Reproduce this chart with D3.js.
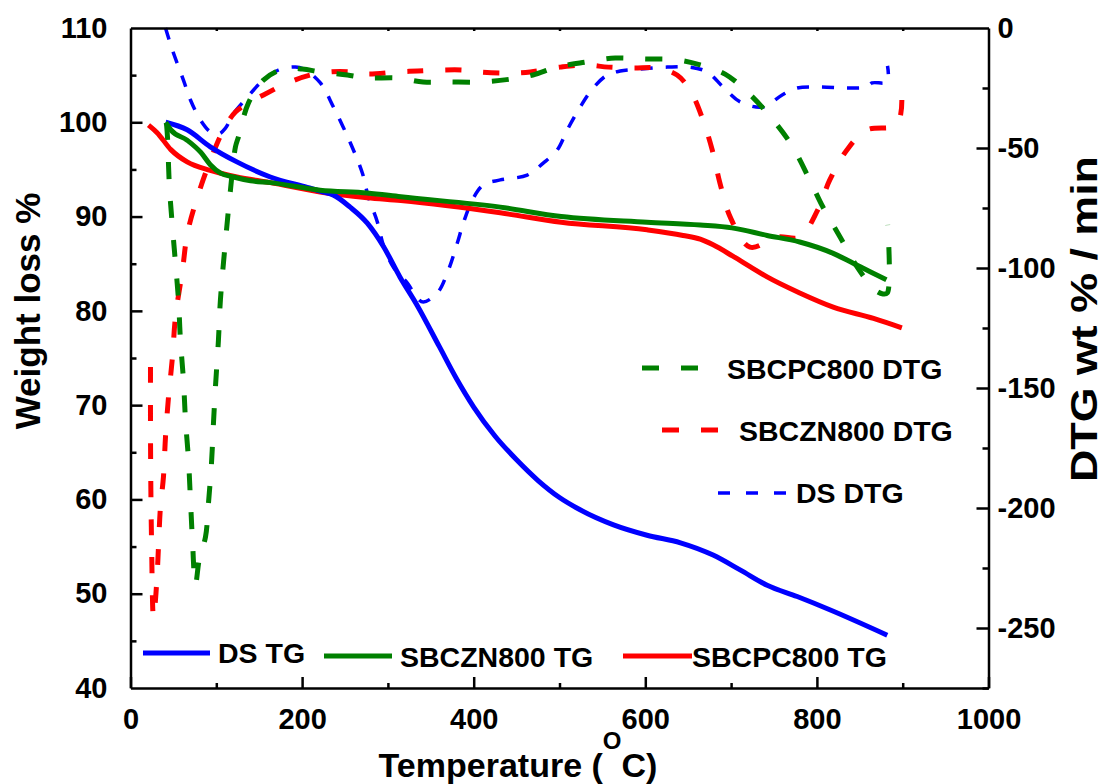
<!DOCTYPE html>
<html>
<head>
<meta charset="utf-8">
<script src="https://cdn.jsdelivr.net/npm/d3@7"></script>
<style>
html,body{margin:0;padding:0;background:#fff;}
svg{display:block;}
text{font-family:"Liberation Sans",Arial,sans-serif;font-weight:bold;fill:#000;}
</style>
</head>
<body>
<svg id="chart" width="1104" height="784"></svg>
<script>
// ---------- DATA ----------
// TG curves (left axis, Weight loss %)
const dsTgT   = [41,66,93,124,163,206,225,236,256,276,295,314,334,360,380,400,425,450,475,500,524,563,602,641,679,711,742,777,815,882];
const dsTgW   = [100,99.2,97.4,95.8,94.2,93.1,92.6,92.3,91.0,89.3,86.8,83.6,80.6,76.2,72.8,69.8,66.7,64.2,62.0,60.2,58.9,57.3,56.2,55.4,54.1,52.5,50.9,49.7,48.3,45.6];
const sbczTgT = [41,47,66,82,93,105,120,140,163,221,276,315,431,502,602,664,701,742,780,819,850,881];
const sbczTgW = [100,99.2,98.1,96.8,95.5,94.6,94.2,93.8,93.6,92.8,92.5,92.1,91.0,90.0,89.4,89.1,88.8,88.0,87.3,86.1,84.7,83.3];
const sbcpTgT = [21,31,47,66,93,124,163,221,276,315,431,502,602,644,664,679,702,722,742,780,819,866,899];
const sbcpTgW = [99.7,98.9,97.1,95.8,94.9,94.2,93.6,92.6,92.0,91.7,90.4,89.4,88.6,88.0,87.6,87.0,85.8,84.7,83.6,81.9,80.4,79.2,78.2];

// DTG curves (right axis, wt % / min)
const sbcpDtgT = [41.9,43.1,45.4,48.9,52.4,55.9,58.2,61.7,64.1,67.6,69.9,72.2,75.7,80.4,87.4,90.9,94.4,96.7,99.0,102.5,104.8,113,116.5,122.3,125.8,137.4,154.9,178.2,200.3,221.3,252.8,276,311,341,369,410,443,469,497,530,565,598,637,664,693,719,742,769,790,807,827,847,868,877,882,882.5];
const sbcpDtgD = [-39.6,-45.4,-66.3,-82.9,-97.9,-113.3,-130,-146.7,-163.3,-180,-196.7,-213.3,-232,-220.8,-212.1,-197.9,-181.3,-164.6,-149.6,-130,-113.3,-80,-67.5,-49.6,-45.4,-31.3,-21.7,-17.1,-17.1,-18.3,-19.6,-20.8,-20.8,-22.5,-22.5,-22.5,-21.3,-19.6,-16.3,-14.2,-12.5,-12.9,-13.3,-15.4,-19.2,-26.7,-35.4,-47.9,-62.1,-74.6,-87.1,-99.6,-109.2,-110.8,-110.4,-82];
const sbczDtgT = [23.3,23.4,24.5,26.8,29.1,31.5,32.6,34.9,38.4,40.8,44.3,48.9,52.4,60.6,66.4,78,93.2,108.3,122.3,139.8,154.9,182.9,209.7,233,256.3,276,311,334.3,361,388,405,439,466,501,530,557,586,614,637,652,666,678,687,699,722,754,780,801,815,835,858,893,899];
const sbczDtgD = [-141.3,-175.8,-213.3,-245.8,-238.3,-224.6,-216.3,-199.6,-187.1,-170.4,-153.8,-137.1,-120.4,-100.8,-85.4,-70.4,-55,-42.5,-35,-30.8,-27.9,-22.9,-19.6,-18.3,-18.3,-19.2,-18.3,-17.9,-17.5,-17.5,-18.3,-18.8,-18.3,-16.3,-15.4,-16.3,-16.7,-16.7,-19.6,-25.8,-37.1,-50.8,-64.6,-78.8,-91.3,-87.1,-87.1,-75.8,-63.3,-50.8,-42.5,-40.4,-30];
const dsDtgT = [40.8,48.9,61.7,69.9,81.5,93.2,102.5,110.7,118.8,136.3,151.4,172.4,192.2,203.8,221.3,236.5,256.3,270.2,277.2,287.7,294.7,306.3,322.7,334.3,341.3,357.6,369.2,380.9,387.9,398.4,411.2,431,462.4,481,497.4,509,524.2,539.3,555.6,570.8,594.1,625.5,652.3,672.1,690.7,710.5,737.3,759.5,776.9,803.7,835.2,858.5,864.3,881.8,882.3];
const dsDtgD = [0,-9.2,-21.7,-30,-38.3,-43.3,-44.2,-41.7,-36.3,-28.8,-22.9,-17.5,-16.3,-17.5,-22.9,-32.9,-47.9,-60.4,-70.4,-80.8,-90.4,-99.6,-106.3,-112.5,-114.2,-110.4,-102.1,-89.6,-81.3,-71.7,-65.4,-63.3,-61.3,-56.3,-50.8,-42.5,-32.9,-25,-19.6,-17.9,-17.1,-16.3,-16.3,-18.3,-24.6,-30.8,-32.9,-27.9,-25,-24.6,-25,-24.6,-22.9,-22.5,-15.8];

// Ticks and labels
const xTicks = [0,200,400,600,800,1000];
const xMinor = [100,300,500,700,900];
const yLTicks = [40,50,60,70,80,90,100,110];
const yLMinor = [45,55,65,75,85,95,105];
const yRTicks = [0,-50,-100,-150,-200,-250];
const yRMinor = [-25,-75,-125,-175,-225,-275];
const topTicks = [100,200,300,400,500,600,700,800,900];

const leftTitle = "Weight loss %";
const rightTitle = "DTG wt % / min";
const xTitleMain = "Temperature (";
const xTitleSup = "O";
const xTitleEnd = "C)";

const dtgLegend = ["SBCPC800 DTG","SBCZN800 DTG","DS DTG"];
const tgLegend = ["DS TG","SBCZN800 TG","SBCPC800 TG"];

// ---------- DRAW ----------
const svg = d3.select("#chart");
const x = d3.scaleLinear().domain([0,1000]).range([130.5,988.5]);
const yL = d3.scaleLinear().domain([40,110]).range([688,28]);
const yR = d3.scaleLinear().domain([-275,0]).range([688,28]);

const BLUE="#0000ff", GREEN="#008000", RED="#ff0000";
const fmt = d => String(d);   // plain hyphen minus, as in the original

function zip(a,b){return a.map((v,i)=>[v,b[i]]);}
const lineL = d3.line().x(d=>x(d[0])).y(d=>yL(d[1])).curve(d3.curveMonotoneX);
const lineR = d3.line().x(d=>x(d[0])).y(d=>yR(d[1])).curve(d3.curveCatmullRom.alpha(0.5));

const plot = svg.append("g");
// DTG dashed
plot.append("path").attr("d",lineR(zip(dsDtgT,dsDtgD))).attr("fill","none").attr("stroke",BLUE).attr("stroke-width",3.5).attr("stroke-dasharray","12,13");
plot.append("path").attr("d",lineR(zip(sbczDtgT,sbczDtgD))).attr("fill","none").attr("stroke",RED).attr("stroke-width",5).attr("stroke-dasharray","16,22");
plot.append("path").attr("d",lineR(zip(sbcpDtgT,sbcpDtgD))).attr("fill","none").attr("stroke",GREEN).attr("stroke-width",5).attr("stroke-dasharray","17,22");
// TG solid
plot.append("path").attr("d",lineL(zip(sbcpTgT,sbcpTgW))).attr("fill","none").attr("stroke",RED).attr("stroke-width",5);
plot.append("path").attr("d",lineL(zip(dsTgT,dsTgW))).attr("fill","none").attr("stroke",BLUE).attr("stroke-width",5);
plot.append("path").attr("d",lineL(zip(sbczTgT,sbczTgW))).attr("fill","none").attr("stroke",GREEN).attr("stroke-width",5);

// Axes
function styleAxis(g){
  g.selectAll("path,line").attr("stroke","#000").attr("stroke-width",2.5);
  g.selectAll("text").attr("font-size",29).attr("font-family","Liberation Sans, Arial, sans-serif").attr("font-weight","bold");
}
const gBottom = svg.append("g").attr("transform","translate(0,688)")
  .call(d3.axisBottom(x).tickValues(xTicks).tickSize(-11).tickSizeOuter(0).tickPadding(20).tickFormat(fmt));
styleAxis(gBottom);
const gBottomMinor = svg.append("g").attr("transform","translate(0,688)")
  .call(d3.axisBottom(x).tickValues(xMinor).tickSize(-5).tickFormat(""));
styleAxis(gBottomMinor); gBottomMinor.select(".domain").remove();

const gTop = svg.append("g").attr("transform","translate(0,28)")
  .call(d3.axisTop(x).tickValues(topTicks).tickSize(-3).tickSizeOuter(0).tickFormat(""));
styleAxis(gTop);

const gLeft = svg.append("g").attr("transform","translate(130.5,0)")
  .call(d3.axisLeft(yL).tickValues(yLTicks).tickSize(-12).tickSizeOuter(0).tickPadding(23).tickFormat(fmt));
styleAxis(gLeft);
gLeft.selectAll(".tick").filter(d=>d===40||d===110).select("line").remove();
const gLeftMinor = svg.append("g").attr("transform","translate(130.5,0)")
  .call(d3.axisLeft(yL).tickValues(yLMinor).tickSize(-6).tickFormat(""));
styleAxis(gLeftMinor); gLeftMinor.select(".domain").remove();

const gRight = svg.append("g").attr("transform","translate(988.5,0)")
  .call(d3.axisRight(yR).tickValues(yRTicks).tickSize(-12).tickSizeOuter(0).tickPadding(9).tickFormat(fmt));
styleAxis(gRight);
gRight.selectAll(".tick").filter(d=>d===0).select("line").remove();
const gRightMinor = svg.append("g").attr("transform","translate(988.5,0)")
  .call(d3.axisRight(yR).tickValues(yRMinor).tickSize(-6).tickFormat(""));
styleAxis(gRightMinor); gRightMinor.select(".domain").remove();

// Titles
svg.append("text").attr("transform","translate(40,311) rotate(-90)").attr("text-anchor","middle")
  .attr("font-size",35).text(leftTitle);
svg.append("text").attr("transform","translate(1097,319) rotate(-90)").attr("text-anchor","middle")
  .attr("font-size",36).attr("textLength",326).attr("lengthAdjust","spacingAndGlyphs").text(rightTitle);
const xt = svg.append("text").attr("x",518).attr("y",777).attr("text-anchor","middle").attr("font-size",34);
xt.append("tspan").text(xTitleMain);
xt.append("tspan").attr("font-size",24).attr("dy",-28).text(xTitleSup);
xt.append("tspan").attr("dy",28).text(xTitleEnd);

// DTG legend (dashed)
const dtgLeg = [
  {x1:642,x2:698,y:368,tx:727,ty:379,color:GREEN,w:5,dash:"17,22"},
  {x1:662,x2:718,y:430,tx:739,ty:441,color:RED,w:5,dash:"17,22"},
  {x1:718,x2:786,y:493,tx:796,ty:503,color:BLUE,w:3.5,dash:"12,16"}
];
dtgLeg.forEach((d,i)=>{
  svg.append("line").attr("x1",d.x1).attr("x2",d.x2).attr("y1",d.y).attr("y2",d.y)
    .attr("stroke",d.color).attr("stroke-width",d.w).attr("stroke-dasharray",d.dash);
  svg.append("text").attr("x",d.tx).attr("y",d.ty).attr("font-size",28.5).text(dtgLegend[i]);
});
// TG legend (solid)
const tgLeg = [
  {x1:143,x2:210,y:653,tx:218,ty:663,color:BLUE},
  {x1:324,x2:392,y:656,tx:400,ty:667,color:GREEN},
  {x1:623,x2:692,y:656,tx:692,ty:667,color:RED}
];
tgLeg.forEach((d,i)=>{
  svg.append("line").attr("x1",d.x1).attr("x2",d.x2).attr("y1",d.y).attr("y2",d.y)
    .attr("stroke",d.color).attr("stroke-width",5);
  svg.append("text").attr("x",d.tx).attr("y",d.ty).attr("font-size",28.5).text(tgLegend[i]);
});
</script>
</body>
</html>
